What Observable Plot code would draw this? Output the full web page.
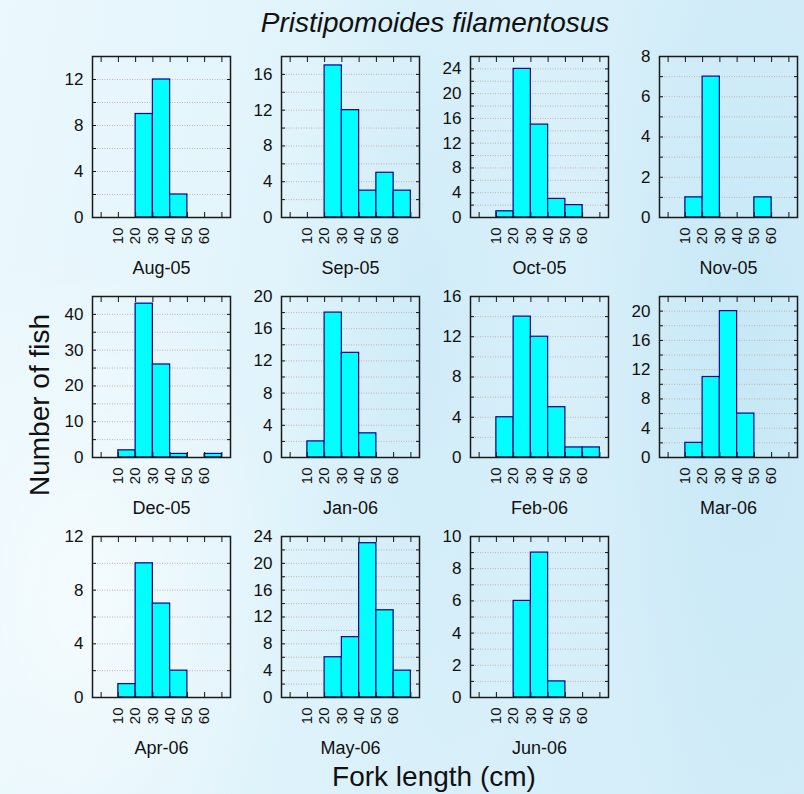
<!DOCTYPE html>
<html><head><meta charset="utf-8">
<script src="https://cdn.jsdelivr.net/npm/d3@7"></script>
<script src="https://cdn.jsdelivr.net/npm/@observablehq/plot@0.6"></script>
<style>
html,body{margin:0;padding:0;}
#chart{position:relative;width:804px;height:794px;overflow:hidden;font-family:"Liberation Sans",Arial,sans-serif;
background:
 radial-gradient(ellipse 300px 500px at 10% 75%, rgba(255,255,255,0.6), rgba(255,255,255,0) 70%),
 radial-gradient(ellipse 200px 700px at 52% 40%, rgba(195,230,246,0.5), rgba(195,230,246,0) 70%),
 radial-gradient(ellipse 220px 800px at 92% 45%, rgba(190,228,245,0.6), rgba(190,228,245,0) 70%),
 linear-gradient(100deg, #ebf8fd 0%, #e1f4fb 35%, #d9f0fa 60%, #d2ecf8 100%);}
.panel{position:absolute;}
#overlay{position:absolute;left:0;top:0;pointer-events:none;}
</style></head><body><div id="chart"></div>
<script>
const title = "Pristipomoides filamentosus";
const yTitle = "Number of fish";
const xTitle = "Fork length (cm)";
const months = ["Aug-05","Sep-05","Oct-05","Nov-05","Dec-05","Jan-06","Feb-06","Mar-06","Apr-06","May-06","Jun-06"];
const binStarts = [0,10,20,30,40,50,60];
const binWidth = 10;
const xTickValues = [0,10,20,30,40,50,60,70];
const xTickLabels = [10,20,30,40,50,60];
const aug05 = [0,0,9,12,2,0,0];
const sep05 = [0,0,17,12,3,5,3];
const oct05 = [0,1,24,15,3,2,0];
const nov05 = [0,1,7,0,0,1,0];
const dec05 = [0,2,43,26,1,0,1];
const jan06 = [0,2,18,13,3,0,0];
const feb06 = [0,4,14,12,5,1,1];
const mar06 = [0,2,11,20,6,0,0];
const apr06 = [0,1,10,7,2,0,0];
const may06 = [0,0,6,9,23,13,4];
const jun06 = [0,0,6,9,1,0,0];
const counts = [aug05,sep05,oct05,nov05,dec05,jan06,feb06,mar06,apr06,may06,jun06];
const yMax = [14,18,26,8,45,20,16,22,12,24,10];
const yStep = [4,4,4,2,10,4,4,4,4,4,2];

const FRAME_W = 138, FRAME_H = 161;
const ML = 40, MR = 6, MT = 10, MB = 70;
const colLeft = [92,281,470,659];
const rowTop = [56,296,536];
const chart = document.getElementById("chart");

months.forEach((m, i) => {
  const r = Math.floor(i / 4), c = i % 4;
  const data = binStarts.map((b, j) => ({x1: b, x2: b + binWidth, n: counts[i][j]})).filter(d => d.n > 0);
  const major = d3.range(0, yMax[i] + 1e-9, yStep[i]);
  const half = yStep[i] / 2;
  const minorAll = d3.range(half, yMax[i] - 1e-9, half);
  const plot = Plot.plot({
    width: ML + FRAME_W + MR, height: MT + FRAME_H + MB,
    marginLeft: ML, marginRight: MR, marginTop: MT, marginBottom: MB,
    x: {domain: [-5, 75]},
    y: {domain: [0, yMax[i]]},
    style: {background: "transparent", fontFamily: "'Liberation Sans', Arial, sans-serif", fontSize: "17px", color: "#111", overflow: "visible"},
    marks: [
      Plot.gridY(minorAll, {stroke: "#c4b4b4", strokeOpacity: 1, strokeDasharray: "1,1.5"}),
      Plot.rect(data, {x1: "x1", x2: "x2", y1: () => 0, y2: "n", fill: "#00ffff", stroke: "#00008b", strokeWidth: 1.2}),
      Plot.ruleY([0], {x1: binStarts[0], x2: binStarts[binStarts.length - 1] + binWidth, stroke: "#00008b", strokeWidth: 1.2}),
      Plot.axisY(major, {anchor: "left", tickSize: 0, tickPadding: 9, fontSize: 17, label: null}),
      Plot.axisY(minorAll, {anchor: "left", tickSize: -4, tickFormat: () => "", label: null}),
      Plot.axisY(minorAll, {anchor: "right", tickSize: -4, tickFormat: () => "", label: null}),
      Plot.axisX(xTickValues, {anchor: "bottom", tickSize: -5, tickFormat: () => "", label: null}),
      Plot.axisX(xTickValues, {anchor: "top", tickSize: -5, tickFormat: () => "", label: null}),
      Plot.axisX(xTickLabels, {anchor: "bottom", tickSize: 0, tickPadding: 10, tickRotate: -90, fontSize: 15, label: null}),
      Plot.frame({stroke: "#1a1a1a", strokeWidth: 1.5}),
      Plot.text([m], {frameAnchor: "bottom", dy: 56, lineAnchor: "bottom", fontSize: 18, text: d => d, fill: "#111"})
    ]
  });
  plot.classList.add("panel");
  plot.style.left = (colLeft[c] - ML) + "px";
  plot.style.top = (rowTop[r] - MT) + "px";
  chart.appendChild(plot);
});

const svg = d3.select(chart).append("svg").attr("id", "overlay").attr("width", 804).attr("height", 794)
  .style("font-family", "'Liberation Sans', Arial, sans-serif");
svg.append("text").attr("x", 435).attr("y", 32).attr("text-anchor", "middle")
  .attr("font-size", 28).attr("font-style", "italic").attr("fill", "#111").text(title);
svg.append("text").attr("transform", "translate(49,405) rotate(-90)").attr("text-anchor", "middle")
  .attr("font-size", 28).attr("fill", "#111").text(yTitle);
svg.append("text").attr("x", 434).attr("y", 786).attr("text-anchor", "middle")
  .attr("font-size", 28).attr("fill", "#111").text(xTitle);
</script>
</body></html>
